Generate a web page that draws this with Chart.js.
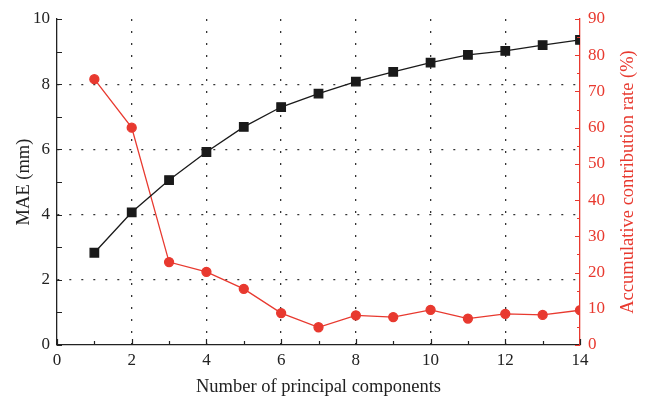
<!DOCTYPE html>
<html>
<head>
<meta charset="utf-8">
<script src="https://cdn.jsdelivr.net/npm/chart.js@4.4.1/dist/chart.umd.min.js"></script>
<style>
  html, body { margin: 0; padding: 0; background: #fff; }
  #wrap { width: 657px; height: 399px; }
</style>
</head>
<body>
<div id="wrap"><canvas id="chart" width="657" height="399"></canvas></div>
<script>
// data
var components = [1, 2, 3, 4, 5, 6, 7, 8, 9, 10, 11, 12, 13, 14];
var maeValues = [2.83, 4.07, 5.06, 5.92, 6.69, 7.3, 7.71, 8.08, 8.38, 8.66, 8.9, 9.02, 9.2, 9.36];
var contributionRate = [73.4, 60, 22.9, 20.2, 15.5, 8.8, 4.9, 8.2, 7.7, 9.7, 7.3, 8.6, 8.3, 9.6];

var RED = "#e8392f";
var DARK = "#222";
var FONT = "'Liberation Serif', 'DejaVu Serif', serif";

function pts(ys) {
  return components.map(function (c, i) { return { x: c, y: ys[i] }; });
}

// small ticks drawn inside the plot and the axis titles
var insideTicks = {
  id: "insideTicks",
  afterDatasetsDraw: function (ch) {
    var ctx = ch.ctx, a = ch.chartArea;
    var xs = ch.scales.x, yl = ch.scales.y, yr = ch.scales.y1;
    ctx.save();
    ctx.lineWidth = 1.2;
    ctx.strokeStyle = DARK;
    ctx.beginPath();
    for (var i = 0; i <= 14; i++) {
      var px = Math.round(xs.getPixelForValue(i)) + 0.5;
      var len = i % 2 === 0 ? 6 : 4;
      ctx.moveTo(px, a.bottom);
      ctx.lineTo(px, a.bottom - len);
    }
    for (var j = 0; j <= 10; j++) {
      var py = Math.round(yl.getPixelForValue(j)) + 0.5;
      ctx.moveTo(a.left, py);
      ctx.lineTo(a.left + 5, py);
    }
    ctx.stroke();
    ctx.strokeStyle = RED;
    ctx.beginPath();
    for (var k = 0; k <= 90; k += 5) {
      var pr = Math.round(yr.getPixelForValue(k)) + 0.5;
      var l2 = k % 10 === 0 ? 5 : 3;
      ctx.moveTo(a.right, pr);
      ctx.lineTo(a.right - l2, pr);
    }
    ctx.stroke();

    var midY = (a.top + a.bottom) / 2;
    ctx.font = "18.5px " + FONT;
    ctx.textAlign = "center";
    ctx.textBaseline = "middle";

    ctx.fillStyle = DARK;
    ctx.fillText("Number of principal components", (a.left + a.right) / 2, 387);

    ctx.save();
    ctx.translate(24, midY);
    ctx.rotate(-Math.PI / 2);
    ctx.fillText("MAE (mm)", 0, 0);
    ctx.restore();

    // right title reads bottom to top
    ctx.fillStyle = RED;
    ctx.translate(628, midY);
    ctx.rotate(-Math.PI / 2);
    ctx.fillText("Accumulative contribution rate (%)", 0, 0);
    ctx.restore();
  }
};

function gridColor(edges) {
  return function (c) {
    return edges.indexOf(c.tick.value) >= 0 ? "rgba(0,0,0,0)" : "#333";
  };
}

var ctx = document.getElementById("chart").getContext("2d");
var myChart = new Chart(ctx, {
  type: "line",
  data: {
    datasets: [
      {
        label: "MAE",
        data: pts(maeValues),
        yAxisID: "y",
        borderColor: "#1a1a1a",
        backgroundColor: "#1a1a1a",
        borderWidth: 1.3,
        pointStyle: "rect",
        pointRadius: 6,
        pointHoverRadius: 6,
        tension: 0,
      },
      {
        label: "Accumulative contribution rate",
        data: pts(contributionRate),
        yAxisID: "y1",
        borderColor: RED,
        backgroundColor: RED,
        borderWidth: 1.3,
        pointStyle: "circle",
        pointRadius: 4.5,
        pointHoverRadius: 4.5,
        tension: 0,
      },
    ],
  },
  options: {
    responsive: false,
    animation: false,
    layout: { padding: { top: 19, right: 0, left: 0, bottom: 0 } },
    plugins: { legend: { display: false }, tooltip: { enabled: false } },
    scales: {
      x: {
        type: "linear",
        min: 0,
        max: 14,
        afterFit: function (s) { s.height = 54; },
        border: { display: true, color: DARK, width: 1.3, dash: [2, 10] },
        grid: {
          drawTicks: false,
          color: gridColor([0, 14]),
          lineWidth: 1.3,
        },
        ticks: { stepSize: 2, color: DARK, padding: 5, font: { family: FONT, size: 17 } },
      },
      y: {
        type: "linear",
        position: "left",
        min: 0,
        max: 10,
        afterFit: function (s) { s.width = 57; },
        border: { display: true, color: DARK, width: 1.3, dash: [2, 10] },
        grid: {
          drawTicks: false,
          color: gridColor([0, 10]),
          lineWidth: 1.3,
        },
        ticks: { stepSize: 2, color: DARK, padding: 7, font: { family: FONT, size: 17 } },
      },
      y1: {
        type: "linear",
        position: "right",
        min: 0,
        max: 90,
        afterFit: function (s) { s.width = 77; },
        border: { display: true, color: RED, width: 1.3 },
        grid: { display: false, drawTicks: false },
        ticks: { stepSize: 10, color: RED, padding: 8, font: { family: FONT, size: 17 } },
      },
    },
  },
  plugins: [insideTicks],
});
</script>
</body>
</html>
